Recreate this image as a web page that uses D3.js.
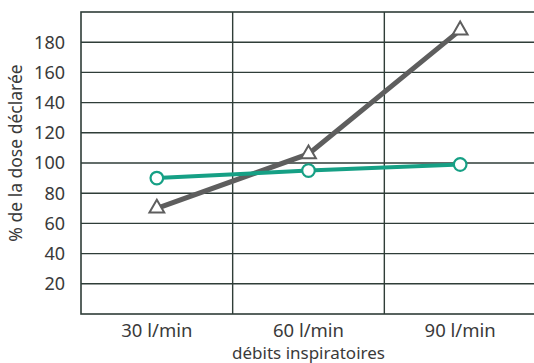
<!DOCTYPE html>
<html><head><meta charset="utf-8">
<script src="https://cdn.jsdelivr.net/npm/d3@7"></script>
<style>body{margin:0;background:#fff}svg{display:block}text{font-family:"Noto Sans",sans-serif;fill:#3a3a3a}</style>
</head><body><svg id="c" width="534" height="363"></svg>
<script>
const categories = ["30 l/min","60 l/min","90 l/min"];
const triangleSeries = [70,106,188];
const circleSeries = [90,95,99];
const yTicks = [20,40,60,80,100,120,140,160,180];
const yTitle = "% de la dose déclarée";
const xTitle = "débits inspiratoires";

const svg = d3.select("#c");
const m = {l:81,t:12,r:536,b:314};
const x = d3.scaleBand().domain(categories).range([m.l,m.r]).padding(0);
const y = d3.scaleLinear().domain([0,200]).range([m.b,m.t]);
const gridC = "#2f3d38";

// horizontal grid
svg.append("g").selectAll("line").data(yTicks).join("line")
  .attr("x1",m.l).attr("x2",m.r).attr("y1",d=>y(d)).attr("y2",d=>y(d))
  .attr("stroke",gridC).attr("stroke-width",1.4);
// vertical grid
svg.append("g").selectAll("line").data(categories.slice(1)).join("line")
  .attr("x1",d=>x(d)).attr("x2",d=>x(d)).attr("y1",m.t).attr("y2",m.b)
  .attr("stroke",gridC).attr("stroke-width",1.4);
svg.append("rect").attr("x",m.l).attr("y",m.t).attr("width",m.r-m.l).attr("height",m.b-m.t)
  .attr("fill","none").attr("stroke",gridC).attr("stroke-width",1.6);

// y tick labels
svg.append("g").selectAll("text").data(yTicks).join("text")
  .attr("x",65).attr("y",d=>y(d)).attr("dy","0.36em").attr("text-anchor","end")
  .attr("font-size",18).text(d=>d);
// x labels
svg.append("g").selectAll("text").data(categories).join("text")
  .attr("x",d=>x(d)+x.bandwidth()/2).attr("y",337).attr("text-anchor","middle")
  .attr("font-size",18.5).text(d=>d);
svg.append("text").attr("x",x(categories[1])+x.bandwidth()/2).attr("y",359)
  .attr("text-anchor","middle").attr("font-size",17).text(xTitle);
svg.append("text").attr("transform","translate(22,153) rotate(-90)")
  .attr("text-anchor","middle").attr("font-size",17.5).text(yTitle);

const cx = d => x(d)+x.bandwidth()/2;
const line = d3.line().x(d=>cx(d[0])).y(d=>y(d[1]));
const gray = "#5e5e5e", teal = "#16a085";

svg.append("path").datum(categories.map((c,i)=>[c,triangleSeries[i]]))
  .attr("d",line).attr("fill","none").attr("stroke",gray).attr("stroke-width",5);
svg.append("path").datum(categories.map((c,i)=>[c,circleSeries[i]]))
  .attr("d",line).attr("fill","none").attr("stroke",teal).attr("stroke-width",4);

const tri = d3.symbol().type(d3.symbolTriangle).size(95);
svg.append("g").selectAll("path").data(categories).join("path")
  .attr("d",tri).attr("transform",(d,i)=>`translate(${cx(d)},${y(triangleSeries[i])})`)
  .attr("fill","#fff").attr("stroke",gray).attr("stroke-width",2);
svg.append("g").selectAll("circle").data(categories).join("circle")
  .attr("cx",cx).attr("cy",(d,i)=>y(circleSeries[i])).attr("r",6.3)
  .attr("fill","#fff").attr("stroke",teal).attr("stroke-width",2.2);
</script></body></html>
